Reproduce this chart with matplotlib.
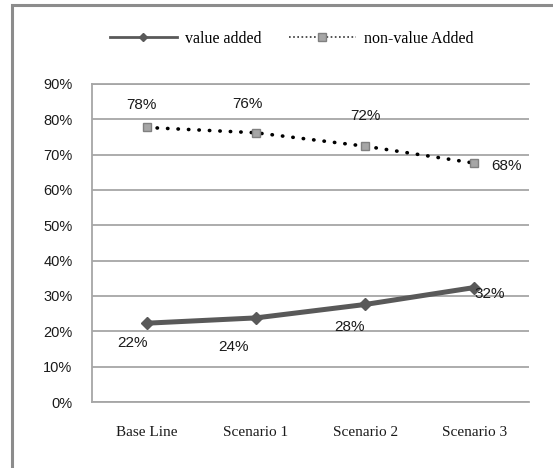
#!/usr/bin/env python3
import matplotlib
matplotlib.use('Agg')
import matplotlib.pyplot as plt
from matplotlib.lines import Line2D
from matplotlib.patches import Rectangle

# chart data (shares, %)
categories = ['Base Line', 'Scenario 1', 'Scenario 2', 'Scenario 3']
value_added = [22.3, 23.8, 27.6, 32.4]
non_value_added = [77.7, 76.2, 72.4, 67.6]
value_labels = ['22%', '24%', '28%', '32%']
non_value_labels = ['78%', '76%', '72%', '68%']
y_ticks = [0, 10, 20, 30, 40, 50, 60, 70, 80, 90]
y_tick_labels = [f'{t}%' for t in y_ticks]

# where Excel happened to put the data labels (offset in points)
value_offsets = [(-10, -14), (-16, -21), (-11, -16), (11, -5)]
non_value_offsets = [(-4, 16), (-6, 21), (0, 22), (23, -2)]

SERIF = 'Liberation Serif'
SANS = 'Liberation Sans'
GRID = '#a6a6a6'

fig = plt.figure(figsize=(5.53, 4.68), dpi=100)
ax = fig.add_axes([92 / 553, 1 - 402 / 468, (529 - 92) / 553, (402 - 84) / 468])

x = list(range(len(categories)))

ax.plot(x, value_added, color='#595959', linewidth=3.6, marker='D',
        markersize=6, markerfacecolor='#595959', markeredgecolor='#595959',
        solid_capstyle='round', zorder=3)
ax.plot(x, non_value_added, color='black', linewidth=2.6,
        linestyle=(0, (0.1, 2.8)), dash_capstyle='round',
        marker='s', markersize=6, markerfacecolor='#a6a6a6',
        markeredgecolor='#808080', markeredgewidth=1, zorder=3)

for xi, v, lab, off in zip(x, value_added, value_labels, value_offsets):
    ax.annotate(lab, (xi, v), xytext=off, textcoords='offset points',
                ha='center', va='center', fontsize=11, family=SANS,
                color='#1a1a1a', zorder=4)
for xi, v, lab, off in zip(x, non_value_added, non_value_labels, non_value_offsets):
    ax.annotate(lab, (xi, v), xytext=off, textcoords='offset points',
                ha='center', va='center', fontsize=11, family=SANS,
                color='#1a1a1a', zorder=4)

ax.set_xlim(-0.5, len(categories) - 0.5)
ax.set_ylim(0, 90)
ax.set_yticks(y_ticks)
ax.set_yticklabels(y_tick_labels, fontsize=10.5, family=SANS, color='#1a1a1a')
ax.set_xticks(x)
ax.set_xticklabels(categories, fontsize=11, family=SERIF, color='#1a1a1a')
ax.tick_params(axis='both', length=0)
ax.tick_params(axis='y', pad=14)
ax.tick_params(axis='x', pad=17)

ax.grid(axis='y', color=GRID, linewidth=1.3)
ax.set_axisbelow(True)
ax.spines['right'].set_visible(False)
# top spine stands in for the 90% gridline
for side in ['left', 'bottom', 'top']:
    ax.spines[side].set_color(GRID)
    ax.spines[side].set_linewidth(1.3)

# legend uses thinner proxy lines like the original
handles = [
    Line2D([], [], color='#595959', linewidth=2, marker='D', markersize=4,
           markerfacecolor='#595959', markeredgecolor='#595959'),
    Line2D([], [], color='#333333', linewidth=1.2, linestyle=(0, (1, 1.5)),
           marker='s', markersize=6, markerfacecolor='#a6a6a6',
           markeredgecolor='#808080'),
]
fig.legend(handles, ['value added', 'non-value Added'], loc='center',
           bbox_to_anchor=(0.527, 1 - 39 / 468), ncol=2, frameon=False,
           prop={'family': SERIF, 'size': 11.5}, handlelength=4.2,
           handletextpad=0.5, columnspacing=1.7)

# outer chart frame (cut off at right and bottom in the original)
fig.add_artist(Rectangle((12 / 553, -0.2), 1.2, 1.2 - 5 / 468,
                         transform=fig.transFigure, fill=False,
                         edgecolor='#8c8c8c', linewidth=2.2, clip_on=False))

fig.savefig('out.png', dpi=100)
